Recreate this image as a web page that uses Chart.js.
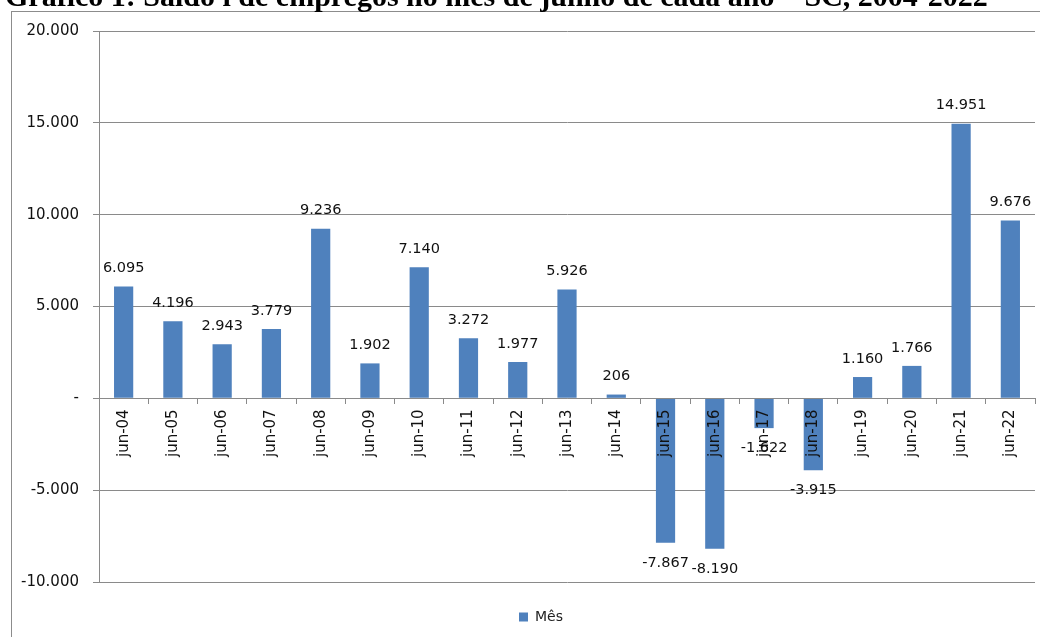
<!DOCTYPE html>
<html>
<head>
<meta charset="utf-8">
<script src="https://cdn.jsdelivr.net/npm/chart.js@4/dist/chart.umd.min.js"></script>
<style>
  html, body { margin: 0; padding: 0; width: 1040px; height: 637px; overflow: hidden; background: #fff; }
  #titulo { position: absolute; left: 5px; top: -19px; font: bold 30px "Liberation Serif", "Times New Roman", serif; line-height: 30px; white-space: nowrap; color: #000; z-index: 2; }
  #moldura { position: absolute; left: 11px; top: 11px; width: 1060px; height: 660px; border: 1px solid #8c8c8c; }
  #wrap { position: absolute; left: 0; top: -4px; width: 1058px; height: 650px; }
</style>
</head>
<body>
<div id="titulo">Gráfico 1: Saldo i de empregos no mês de junho de cada ano – SC, 2004-2022</div>
<div id="moldura"><div id="wrap"><canvas id="myChart"></canvas></div></div>
<script>
// dados
var meses = ['jun-04','jun-05','jun-06','jun-07','jun-08','jun-09','jun-10','jun-11','jun-12','jun-13','jun-14','jun-15','jun-16','jun-17','jun-18','jun-19','jun-20','jun-21','jun-22'];
var saldo = [6095, 4196, 2943, 3779, 9236, 1902, 7140, 3272, 1977, 5926, 206, -7867, -8190, -1622, -3915, 1160, 1766, 14951, 9676];
var serieNome = 'Mês';
var yMin = -10000, yMax = 20000, yPasso = 5000;

function fmtNum(n){
  var s = Math.abs(n).toString().replace(/\B(?=(\d{3})+(?!\d))/g, '.');
  return (n < 0 ? '-' : '') + s;
}

// rótulos de dados em cima / embaixo das barras
var rotulos = {
  id: 'rotulos',
  afterLayout: function(chart){
    // legenda centrada na largura toda do quadro
    if (chart.legend) chart.legend.right = chart.width;
  },
  afterDatasetsDraw: function(chart){
    var ctx = chart.ctx;
    var meta = chart.getDatasetMeta(0);
    ctx.save();
    ctx.font = '14.5px "DejaVu Sans", sans-serif';
    ctx.fillStyle = '#111';
    ctx.textAlign = 'center';
    ctx.textBaseline = 'middle';
    meta.data.forEach(function(bar, i){
      var v = saldo[i];
      var y = v >= 0 ? bar.y - 18 : bar.y + 20;
      ctx.fillText(fmtNum(v), bar.x, y);
    });
    ctx.restore();
  }
};

var cinza = '#8a8a8a';

new Chart(document.getElementById('myChart'), {
  type: 'bar',
  data: {
    labels: meses,
    datasets: [{
      label: serieNome,
      data: saldo,
      backgroundColor: '#4F81BD',
      borderWidth: 0,
      barPercentage: 0.39,
      categoryPercentage: 1
    }]
  },
  options: {
    responsive: true,
    maintainAspectRatio: false,
    animation: false,
    events: [],
    layout: { padding: { left: 0, right: 35, top: 16, bottom: 24 } },
    plugins: {
      legend: {
        display: true,
        position: 'bottom',
        labels: {
          boxWidth: 9, boxHeight: 9, padding: 28,
          color: '#222',
          font: { family: '"DejaVu Sans", sans-serif', size: 14 }
        }
      },
      title: { display: false },
      tooltip: { enabled: false }
    },
    scales: {
      x: {
        position: { y: 0 },
        grid: { display: true, drawOnChartArea: false, drawTicks: true, tickLength: 5, color: cinza, offset: true },
        border: { display: true, color: cinza, width: 1, z: 1 },
        ticks: {
          autoSkip: false, minRotation: 90, maxRotation: 90, padding: 6, z: 1,
          color: '#111',
          font: { family: '"DejaVu Sans", sans-serif', size: 15 }
        }
      },
      y: {
        min: yMin, max: yMax,
        afterFit: function(scale){ scale.width = 87; },
        grid: { color: cinza, tickLength: 6, drawTicks: true },
        border: { display: true, color: cinza },
        ticks: {
          stepSize: yPasso, padding: 14,
          color: '#111',
          font: { family: '"DejaVu Sans", sans-serif', size: 15 },
          callback: function(v){ return v === 0 ? '-' : fmtNum(v); }
        }
      }
    }
  },
  plugins: [rotulos]
});
</script>
</body>
</html>
